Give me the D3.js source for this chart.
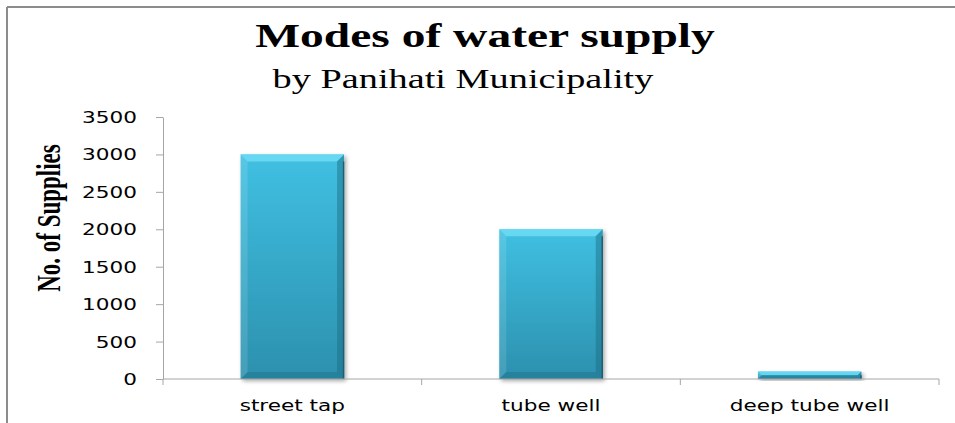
<!DOCTYPE html>
<html>
<head>
<meta charset="utf-8">
<script src="https://cdn.jsdelivr.net/npm/d3@7"></script>
<style>
  body { margin: 0; background: #fff; }
  svg { display: block; }
</style>
</head>
<body>
<div id="chart"></div>
<script>
// chart data
const categories = ['street tap', 'tube well', 'deep tube well']
const supplies = [3000, 2000, 100]
const yTicks = [0, 500, 1000, 1500, 2000, 2500, 3000, 3500]

const width = 955,
    height = 423,
    sx = 1.44   // the picture is stretched sideways, so text is too

const margin = { top: 117, right: 16, bottom: 44, left: 163 }

const svg = d3.select('#chart')
    .append('svg')
    .attr('width', width)
    .attr('height', height)

// frame (only top and left edges show)
svg.append('line').attr('x1', 7).attr('x2', width).attr('y1', 7).attr('y2', 7)
    .attr('stroke', '#8c8c8c').attr('stroke-width', 2)
svg.append('line').attr('x1', 7).attr('x2', 7).attr('y1', 7).attr('y2', height)
    .attr('stroke', '#8c8c8c').attr('stroke-width', 2)

let x = d3.scaleBand()
    .domain(categories)
    .range([margin.left, width - margin.right])
    .paddingInner(0.6)
    .paddingOuter(0.3)

let y = d3.scaleLinear()
    .domain([0, 3500])
    .range([height - margin.bottom, margin.top])

// stretched text helper
function sText(g, tx, ty, str, opts) {
    return g.append('text')
        .attr('transform', `translate(${tx},${ty}) scale(${sx},1)`)
        .attr('text-anchor', opts.anchor || 'middle')
        .attr('font-family', opts.family)
        .attr('font-size', opts.size)
        .attr('font-weight', opts.weight || 'normal')
        .attr('fill', opts.fill || '#000')
        .text(str)
}

// titles
sText(svg, 485, 47, 'Modes of water supply',
    { family: '"Liberation Serif", "Times New Roman", serif', size: 33, weight: 'bold' })
sText(svg, 463, 88, 'by Panihati Municipality',
    { family: '"Liberation Serif", "Times New Roman", serif', size: 26.6 })

// y axis title, rotated; stretch goes along screen x
svg.append('text')
    .attr('transform', `translate(60,218) rotate(-90) scale(1,${sx})`)
    .attr('text-anchor', 'middle')
    .attr('font-family', '"Liberation Serif", "Times New Roman", serif')
    .attr('font-size', 23)
    .attr('font-weight', 'bold')
    .text('No. of Supplies')

// gradients
const defs = svg.append('defs')
const grad = defs.append('linearGradient')
    .attr('id', 'barFill').attr('x1', 0).attr('x2', 0).attr('y1', 0).attr('y2', 1)
grad.append('stop').attr('offset', '0%').attr('stop-color', '#40c0e2')
grad.append('stop').attr('offset', '100%').attr('stop-color', '#2c90ae')

const shadow = defs.append('filter').attr('id', 'shadow')
    .attr('x', '-10%').attr('y', '-10%').attr('width', '130%').attr('height', '130%')
shadow.append('feGaussianBlur').attr('in', 'SourceAlpha').attr('stdDeviation', 2)
shadow.append('feOffset').attr('dx', 2).attr('dy', 2).attr('result', 'b')
shadow.append('feComponentTransfer').append('feFuncA').attr('type', 'linear').attr('slope', 0.35)
const merge = shadow.append('feMerge')
merge.append('feMergeNode')
merge.append('feMergeNode').attr('in', 'SourceGraphic')

// y axis
let yAxis = svg.append('g')
    .attr('transform', `translate(${margin.left},0)`)
    .call(d3.axisLeft(y).tickValues(yTicks).tickSize(7).tickSizeOuter(0))
yAxis.select('.domain').attr('stroke', '#a6a6a6')
yAxis.selectAll('.tick line').attr('stroke', '#a6a6a6')
yAxis.selectAll('.tick text').remove()
yAxis.selectAll('.tick').each(function (d) {
    sText(d3.select(this), -26, 5.5, d,
        { family: '"DejaVu Sans", sans-serif', size: 15, anchor: 'end' })
})

// bars
let bars = svg.selectAll('g.bar')
    .data(categories.map((c, i) => ({ key: c, value: supplies[i] })))
    .enter()
    .append('g')
    .attr('class', 'bar')

bars.each(function (d) {
    let g = d3.select(this)
    let x0 = x(d.key), w = x.bandwidth()
    let y0 = y(d.value), y1 = y(0), h = y1 - y0
    let b = Math.min(7, h / 2)
    g.append('rect')
        .attr('x', x0).attr('y', y0).attr('width', w).attr('height', h)
        .attr('fill', 'url(#barFill)')
        .attr('filter', 'url(#shadow)')
    // bevel faces
    g.append('polygon')
        .attr('points', [[x0, y0], [x0 + w, y0], [x0 + w - b, y0 + b], [x0 + b, y0 + b]].join(' '))
        .attr('fill', '#6fdcf4').attr('opacity', 0.85)
    g.append('polygon')
        .attr('points', [[x0, y1], [x0 + w, y1], [x0 + w - b, y1 - b], [x0 + b, y1 - b]].join(' '))
        .attr('fill', '#237c96').attr('opacity', 0.7)
    g.append('polygon')
        .attr('points', [[x0, y0], [x0 + b, y0 + b], [x0 + b, y1 - b], [x0, y1]].join(' '))
        .attr('fill', '#ffffff').attr('opacity', 0.12)
    g.append('polygon')
        .attr('points', [[x0 + w, y0], [x0 + w - b, y0 + b], [x0 + w - b, y1 - b], [x0 + w, y1]].join(' '))
        .attr('fill', '#1b6a80').attr('opacity', 0.45)
    g.append('line')
        .attr('x1', x0 + w - 0.5).attr('x2', x0 + w - 0.5).attr('y1', y0 + b).attr('y2', y1)
        .attr('stroke', '#1e5f72').attr('stroke-width', 1.5)
})

// x axis, ticks between categories
let xAxisG = svg.append('g')
    .attr('transform', `translate(0,${y(0)})`)
xAxisG.append('line')
    .attr('x1', margin.left).attr('x2', width - margin.right)
    .attr('stroke', '#a6a6a6')
let step = x.step()
xAxisG.selectAll('line.tk')
    .data(d3.range(categories.length + 1))
    .enter()
    .append('line')
    .attr('class', 'tk')
    .attr('x1', i => margin.left + i * step).attr('x2', i => margin.left + i * step)
    .attr('y1', 0).attr('y2', 6)
    .attr('stroke', '#a6a6a6')
categories.forEach(c => {
    sText(xAxisG, x(c) + x.bandwidth() / 2, 32, c,
        { family: '"DejaVu Sans", sans-serif', size: 15 })
})
</script>
</body>
</html>
